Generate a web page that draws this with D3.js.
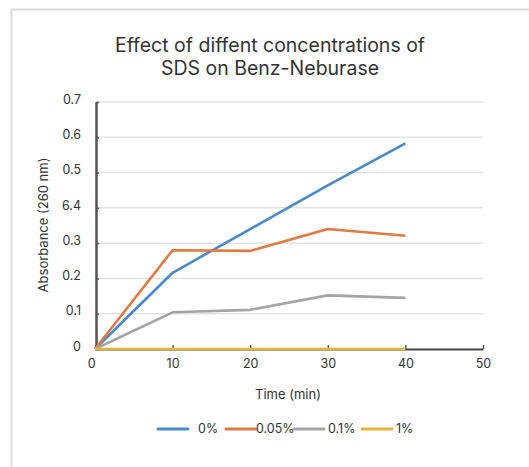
<!DOCTYPE html>
<html>
<head>
<meta charset="utf-8">
<script src="https://cdn.jsdelivr.net/npm/d3@7/dist/d3.min.js"></script>
<style>
  body { margin: 0; background: #fff; }
  text { font-family: Inter, "Noto Sans", sans-serif; fill: #333; }
</style>
</head>
<body>
<div id="chart"></div>
<script>
// data
var times = [0, 10, 20, 30, 40];
var series = ["0%", "0.05%", "0.1%", "1%"];
var colors = ["#4a8ac8", "#e07a43", "#a5a5a5", "#e3b33c"];
var values0 = [0, 0.216, 0.34, 0.464, 0.583];
var values005 = [0, 0.28, 0.278, 0.34, 0.321];
var values01 = [0, 0.104, 0.111, 0.152, 0.145];
var values1 = [0, 0, 0, 0, 0];
var yTickVals = [0, 0.1, 0.2, 0.3, 0.4, 0.5, 0.6, 0.7];
var yTickText = ["0", "0.1", "0.2", "0.3", "6.4", "0.5", "0.6", "0.7"];
var xTickVals = [0, 10, 20, 30, 40, 50];

var allValues = [values0, values005, values01, values1];

var W = 529, H = 467;
var svg = d3.select("#chart").append("svg").attr("width", W).attr("height", H);

// frame
svg.append("rect").attr("x", 11.5).attr("y", 9.5).attr("width", 530).attr("height", 480)
    .attr("fill", "none").attr("stroke", "#dcdcdc").attr("stroke-width", 2);

var x = d3.scaleLinear().domain([0, 50]).range([95, 483]);
var y = d3.scaleLinear().domain([0, 0.7]).range([349, 102]);

// title
var title = svg.append("text").attr("text-anchor", "middle").style("font-size", "19.5px");
title.append("tspan").attr("x", 270).attr("y", 52).text("Effect of diffent concentrations of");
title.append("tspan").attr("x", 270).attr("y", 75).text("SDS on Benz-Neburase");

// grid
svg.append("g").selectAll("line").data(yTickVals.slice(1)).enter().append("line")
    .attr("x1", x(0)).attr("x2", x(50))
    .attr("y1", function(d){ return y(d); }).attr("y2", function(d){ return y(d); })
    .attr("stroke", "#e3e3e3").attr("stroke-width", 1.5);

// axes
var yAxis = svg.append("g").attr("transform", "translate(" + (x(0) + 1) + ",0)")
    .call(d3.axisLeft(y).tickValues(yTickVals).tickSize(0).tickPadding(15)
        .tickFormat(function(d, i){ return yTickText[i]; }));
yAxis.select(".domain").attr("stroke", "#555").attr("stroke-width", 2.5);
yAxis.selectAll("text").style("font-size", "12.5px").attr("fill", "#333").attr("dy", "0.1em");
// small inner ticks
yAxis.selectAll(".tick").append("line").attr("x1", 0).attr("x2", 3).attr("stroke", "#555").attr("stroke-width", 1.5);

var xAxis = svg.append("g").attr("transform", "translate(0," + y(0) + ")")
    .call(d3.axisBottom(x).tickValues(xTickVals).tickSize(0).tickPadding(10));
xAxis.select(".domain").attr("stroke", "#444").attr("stroke-width", 2);
xAxis.selectAll("text").style("font-size", "12.5px").attr("fill", "#333");
xAxis.selectAll(".tick").append("line").attr("y1", 0).attr("y2", -4).attr("stroke", "#555").attr("stroke-width", 1.5);
xAxis.selectAll(".tick").filter(function(d){ return d === 0; }).select("text").attr("dx", "-0.3em");

// lines
var line = d3.line().x(function(d, i){ return x(times[i]); }).y(function(d){ return y(d); });
svg.append("g").selectAll("path").data(allValues).enter().append("path")
    .attr("d", line).attr("fill", "none")
    .attr("stroke", function(d, i){ return colors[i]; })
    .attr("stroke-width", 2.6).attr("stroke-linejoin", "round");

// axis titles
svg.append("text").attr("transform", "translate(48,225) rotate(-90)")
    .attr("text-anchor", "middle").style("font-size", "13px").text("Absorbance (260 nm)");
svg.append("text").attr("x", 288).attr("y", 399).attr("text-anchor", "middle")
    .style("font-size", "13px").text("Time (min)");

// legend
var legX = [158, 226, 294, 362];
var leg = svg.append("g").selectAll("g").data(series).enter().append("g")
    .attr("transform", function(d, i){ return "translate(" + legX[i] + ",429)"; });
leg.append("line").attr("x1", 0).attr("x2", 30).attr("stroke", function(d, i){ return colors[i]; })
    .attr("stroke-width", 3).attr("stroke-linecap", "round");
leg.append("text").attr("x", function(d, i){ return i === 0 ? 40 : (i === 1 ? 30 : 34); }).attr("dy", "0.35em")
    .style("font-size", "12.5px").text(function(d){ return d; });
</script>
</body>
</html>
